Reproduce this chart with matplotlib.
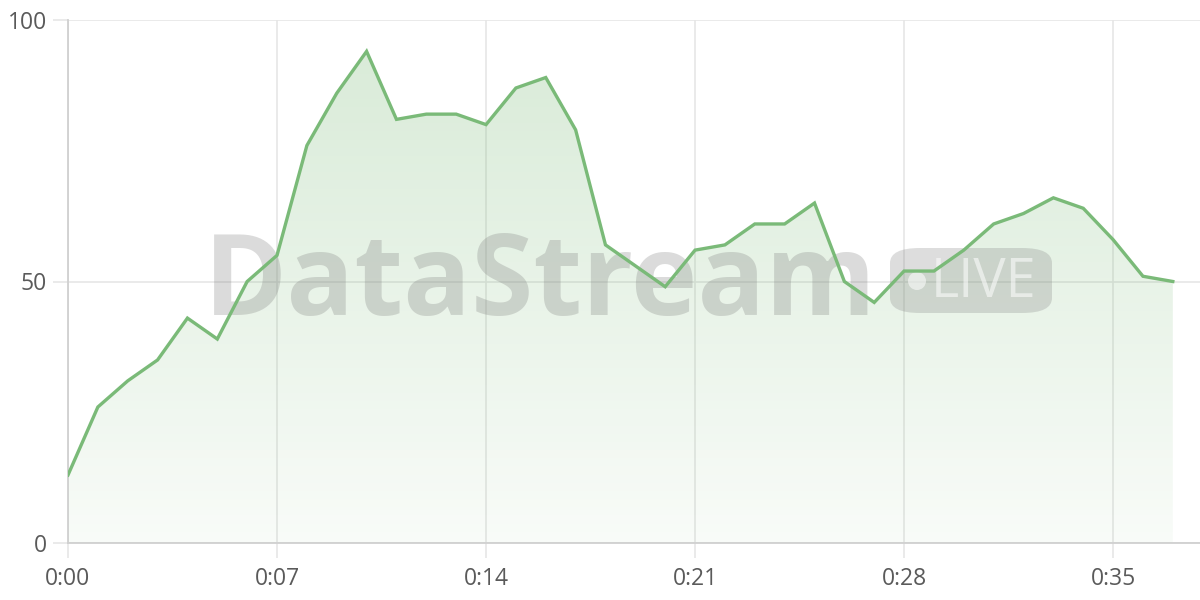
import matplotlib
matplotlib.use("Agg")
import matplotlib.pyplot as plt
import numpy as np
from matplotlib.patches import FancyBboxPatch, Ellipse
from matplotlib.colors import LinearSegmentedColormap

# ==========================================
# Data
# ==========================================

seconds = list(range(38))
values = [13, 26, 31, 35, 43, 39, 50, 55, 76, 86,
          94, 81, 82, 82, 80, 87, 89, 79, 57, 53,
          49, 56, 57, 61, 61, 65, 50, 46, 52, 52,
          56, 61, 63, 66, 64, 58, 51, 50]
x_ticks = [0, 7, 14, 21, 28, 35]
x_tick_labels = ["0:00", "0:07", "0:14", "0:21", "0:28", "0:35"]
y_ticks = [0, 50, 100]

line_color = "#7aba78"
tick_color = "#5a5a5a"

# ==========================================
# Figure
# ==========================================

fig = plt.figure(figsize=(12, 6), dpi=100)
ax = fig.add_axes([68 / 1200, 57 / 600, 1132 / 1200, 523 / 600])

ax.set_xlim(0, 1132 / 29.86)
ax.set_ylim(0, 100)

# gradient fill under the line
cmap = LinearSegmentedColormap.from_list(
    "fade", [(0.48, 0.73, 0.47, 0.05), (0.48, 0.73, 0.47, 0.30)]
)
grad = np.linspace(0, 1, 256).reshape(-1, 1)
img = ax.imshow(
    grad,
    extent=[0, seconds[-1], 0, 100],
    origin="lower",
    aspect="auto",
    cmap=cmap,
    zorder=1,
)
poly = ax.fill_between(seconds, values, 0, color="none", zorder=1)
clip_path = poly.get_paths()[0]
img.set_clip_path(clip_path, transform=ax.transData)

ax.plot(seconds, values, color=line_color, linewidth=2.4,
        solid_joinstyle="miter", zorder=4)

# ==========================================
# Axes styling
# ==========================================

ax.set_xticks(x_ticks)
ax.set_xticklabels(x_tick_labels)
ax.set_yticks(y_ticks)

ax.grid(True, color="#e6e6e6", linewidth=1.2, zorder=0)
ax.set_axisbelow(True)

for side in ["top", "right"]:
    ax.spines[side].set_visible(False)
ax.spines["left"].set_color("#d0d0d0")
ax.spines["bottom"].set_color("#d0d0d0")
ax.spines["left"].set_linewidth(1.3)
ax.spines["bottom"].set_linewidth(1.3)

ax.tick_params(axis="both", length=11, width=1.2, color="#e6e6e6",
               labelcolor=tick_color, labelsize=16.5)
ax.tick_params(axis="x", pad=6)
ax.tick_params(axis="y", pad=4)
for lbl in ax.get_xticklabels() + ax.get_yticklabels():
    lbl.set_family("Open Sans")

# ==========================================
# Watermark (inside the axes, below the line)
# ==========================================

ax.text(
    540 / 1200, 285 / 600, "DataStream",
    transform=fig.transFigure, clip_on=False,
    fontsize=81, fontweight="bold", family="Open Sans",
    color="#7a7a7a", alpha=0.27, ha="center", va="baseline", zorder=3
)

badge = FancyBboxPatch(
    (890 / 1200, (600 - 313) / 600), 162 / 1200, 65 / 600,
    boxstyle="round,pad=0,rounding_size=0.025",
    transform=fig.transFigure, facecolor="#7a7a7a", alpha=0.25,
    edgecolor="none", zorder=3, clip_on=False,
)
ax.add_artist(badge)
dot = Ellipse((917 / 1200, 319 / 600), 18 / 1200, 18 / 600,
              transform=fig.transFigure, facecolor="white",
              alpha=0.55, edgecolor="none", zorder=3, clip_on=False)
ax.add_artist(dot)
ax.text(984 / 1200, 303 / 600, "LIVE", transform=fig.transFigure,
        fontsize=39, family="Open Sans", clip_on=False,
        color="white", alpha=0.55, ha="center", va="baseline", zorder=3)

fig.savefig("out.png", dpi=100)
